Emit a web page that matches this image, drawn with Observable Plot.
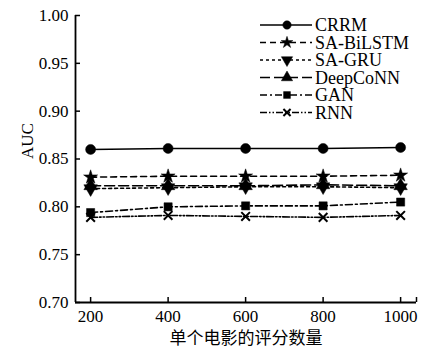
<!DOCTYPE html>
<html>
<head>
<meta charset="utf-8">
<script src="https://cdn.jsdelivr.net/npm/d3@7"></script>
<script src="https://cdn.jsdelivr.net/npm/@observablehq/plot@0.6"></script>
<style>
  html, body { margin: 0; padding: 0; background: #fff; }
  #chart svg { display: block; }
</style>
</head>
<body>
<div id="chart"></div>
<script>
// ---- data ----
const xValues = [200, 400, 600, 800, 1000];
const xTicks = [200, 400, 600, 800, 1000];
const yTicks = [0.70, 0.75, 0.80, 0.85, 0.90, 0.95, 1.00];
const seriesNames = ["CRRM", "SA-BiLSTM", "SA-GRU", "DeepCoNN", "GAN", "RNN"];
const crrm      = [0.860, 0.861, 0.861, 0.861, 0.862];
const saBiLSTM  = [0.831, 0.832, 0.832, 0.832, 0.833];
const saGRU     = [0.819, 0.820, 0.821, 0.821, 0.820];
const deepCoNN  = [0.822, 0.822, 0.822, 0.823, 0.822];
const gan       = [0.794, 0.800, 0.801, 0.801, 0.805];
const rnn       = [0.789, 0.791, 0.790, 0.789, 0.791];
const xLabel = "单个电影的评分数量";
const yLabel = "AUC";

const seriesValues = [crrm, saBiLSTM, saGRU, deepCoNN, gan, rnn];
const xMin = 161, xMax = 1041, yMin = 0.70, yMax = 1.00;

// custom downward triangle symbol
const sqrt3 = Math.sqrt(3);
const triangleDown = {
  draw(context, size) {
    const y = -Math.sqrt(size / (sqrt3 * 3));
    context.moveTo(0, -y * 2);
    context.lineTo(-sqrt3 * y, y);
    context.lineTo(sqrt3 * y, y);
    context.closePath();
  }
};

const styles = [
  {symbol: "circle",   r: 5,   dash: null,            filled: true},
  {symbol: "star",     r: 4.4, dash: "6,4",           filled: true},
  {symbol: triangleDown, r: 5, dash: "3,3",           filled: true},
  {symbol: "triangle", r: 5,   dash: "10,4",          filled: true},
  {symbol: "square",   r: 4.6, dash: "7,3,2,3",       filled: true},
  {symbol: "times",    r: 4,   dash: "7,2,1.5,2,1.5,2", filled: false}
];

const table = seriesNames.flatMap((name, s) =>
  xValues.map((x, i) => ({series: name, idx: s, x, y: seriesValues[s][i]})));

const serif = "'Liberation Serif', 'Times New Roman', serif";

const marks = [];
seriesNames.forEach((name, s) => {
  const data = table.filter(d => d.idx === s);
  const st = styles[s];
  marks.push(Plot.line(data, {x: "x", y: "y", stroke: "black", strokeWidth: 1.6,
    strokeDasharray: st.dash ?? undefined}));
});
seriesNames.forEach((name, s) => {
  const data = table.filter(d => d.idx === s);
  const st = styles[s];
  marks.push(Plot.dot(data, {x: "x", y: "y", symbol: () => st.symbol, r: st.r,
    fill: st.filled ? "black" : "none", stroke: "black", strokeWidth: st.filled ? 0.5 : 2}));
});

const chart = Plot.plot({
  width: 426,
  height: 352,
  marginLeft: 75,
  marginRight: 10,
  marginTop: 15,
  marginBottom: 50,
  style: {fontFamily: serif, background: "white", color: "black"},
  symbol: {type: "identity"},
  x: {domain: [xMin, xMax]},
  y: {domain: [yMin, yMax]},
  marks: [
    Plot.axisX({ticks: xTicks, tickSize: 0, tickPadding: 7, fontSize: 17, label: null,
      tickFormat: d => String(d)}),
    Plot.axisY({ticks: yTicks, tickSize: 0, tickPadding: 7, fontSize: 17, label: null,
      tickFormat: d => d.toFixed(2)}),
    Plot.ruleX([...xTicks, xMax], {y1: yMin, y2: yMin, insetTop: -5, stroke: "black", strokeWidth: 1.5}),
    Plot.ruleY(yTicks, {x1: xMin, x2: xMin, insetRight: -5, stroke: "black", strokeWidth: 1.5}),
    Plot.ruleX([xMin], {stroke: "black", strokeWidth: 1.8}),
    Plot.ruleY([yMin], {stroke: "black", strokeWidth: 1.8}),
    ...marks,
    Plot.text([yLabel], {frameAnchor: "left", text: d => d, rotate: -90, dx: -48,
      lineAnchor: "middle", fontSize: 17, fontFamily: serif}),
    Plot.text([xLabel], {frameAnchor: "bottom", text: d => d, dy: 36,
      lineAnchor: "middle", fontSize: 17, fontFamily: "'Noto Sans CJK SC', sans-serif"})
  ]
});

document.getElementById("chart").appendChild(chart);

// ---- legend (drawn into the plot's svg) ----
const svg = d3.select(chart);
const lg = svg.append("g").attr("transform", "translate(260,25)").attr("text-anchor", "start");
const rowH = 17.5;
seriesNames.forEach((name, s) => {
  const st = styles[s];
  const g = lg.append("g").attr("transform", `translate(0,${s * rowH})`);
  g.append("line").attr("x1", 0).attr("x2", 52).attr("y1", 0).attr("y2", 0)
    .attr("stroke", "black").attr("stroke-width", 1.6)
    .attr("stroke-dasharray", st.dash);
  const type = typeof st.symbol === "string"
    ? {circle: d3.symbolCircle, star: d3.symbolStar, triangle: d3.symbolTriangle,
       square: d3.symbolSquare, times: d3.symbolTimes}[st.symbol]
    : st.symbol;
  const size = Math.PI * st.r * st.r * 0.7;
  g.append("path").attr("d", d3.symbol(type, size)())
    .attr("transform", "translate(27,0)")
    .attr("fill", st.filled ? "black" : "none")
    .attr("stroke", "black").attr("stroke-width", st.filled ? 0.5 : 2);
  g.append("text").attr("x", 55).attr("y", 0).attr("dy", "0.35em")
    .attr("text-anchor", "start")
    .attr("font-family", serif).attr("font-size", 18)
    .attr("fill", "black").text(name);
});
</script>
</body>
</html>
